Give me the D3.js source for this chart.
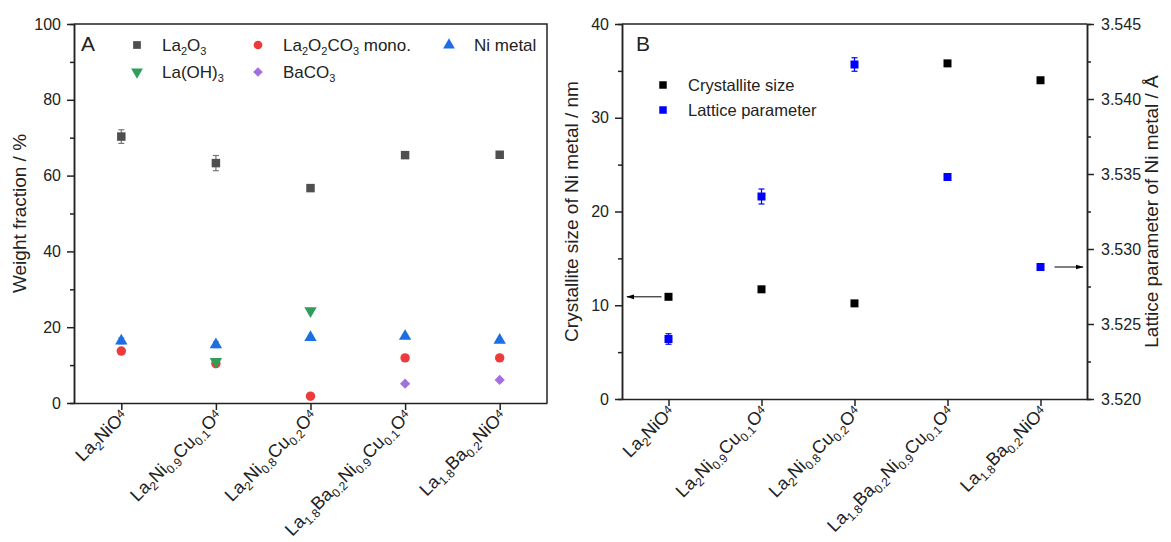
<!DOCTYPE html>
<html>
<head>
<meta charset="utf-8">
<script src="https://cdn.jsdelivr.net/npm/d3@7"></script>
<style>
  body { margin: 0; background: #fff; }
  svg { font-family: "Liberation Sans", Arial, sans-serif; }
</style>
</head>
<body>
<svg id="chart" width="1171" height="542"></svg>
<script>
// sample names (markup: _{} subscript, ^{} raised)
var samples = ["La_{2}NiO^{4}", "La_{2}Ni_{0.9}Cu_{0.1}O^{4}", "La_{2}Ni_{0.8}Cu_{0.2}O^{4}",
  "La_{1.8}Ba_{0.2}Ni_{0.9}Cu_{0.1}O^{4}", "La_{1.8}Ba_{0.2}NiO^{4}"];

// panel A - weight fraction (%), null = phase not present
var la2o3 = [70.3, 63.3, 56.7, 65.4, 65.5];
var la2o3Err = [1.8, 2.0, 0.5, 0.5, 0.5];
var la2o2co3 = [13.7, 10.4, 1.8, 11.9, 11.9];
var laoh3 = [null, 10.9, 24.3, null, null];
var baco3 = [null, null, null, 5.1, 6.1];
var niMetal = [16.4, 15.4, 17.3, 17.6, 16.6];
var niMetalErr = [0.8, 0.8, 0.3, 0.3, 0.3];

// panel B
var crystSize = [10.9, 11.7, 10.2, 35.8, 34.0];
var crystErr = [0.2, 0.2, 0.2, 0.2, 0.2];
var latticePar = [3.5240, 3.5335, 3.5423, 3.5348, 3.5288];
var latticeErr = [0.00035, 0.0005, 0.00045, 0.0002, 0.0002];

var yTicksA = [0, 20, 40, 60, 80, 100];
var yTicksB = [0, 10, 20, 30, 40];
var yTicksB2 = [3.520, 3.525, 3.530, 3.535, 3.540, 3.545];

var svg = d3.select("#chart");
var axisColor = "#222";

// write markup text into a text element as tspans
function richText(sel, str, subSize, supShift) {
  var re = /([_^])\{([^}]*)\}|([^_^]+)/g, m;
  while ((m = re.exec(str)) !== null) {
    if (m[3]) sel.append("tspan").text(m[3]);
    else if (m[1] == "_") sel.append("tspan").attr("font-size", subSize).attr("dy", subSize * 0.35)
      .attr("data-back", subSize * 0.35).text(m[2]);
    else sel.append("tspan").attr("font-size", subSize).attr("dy", -supShift)
      .attr("data-back", -supShift).text(m[2]);
  }
  // reset baseline after each shifted span
  sel.selectAll("tspan").each(function(d, i, nodes) {
    var back = this.getAttribute("data-back");
    if (back != null && nodes[i + 1]) {
      var nx = d3.select(nodes[i + 1]);
      nx.attr("dy", (+nx.attr("dy") || 0) - back);
    }
  });
}

function styleAxis(g) {
  g.selectAll(".domain").attr("stroke", axisColor).attr("stroke-width", 1.5);
  g.selectAll(".tick line").attr("stroke", axisColor).attr("stroke-width", 1.5);
  g.selectAll(".tick text").attr("fill", "#222").attr("font-size", 16).attr("font-family", "Liberation Sans, Arial, sans-serif");
}

function xLabels(g, x, baseY) {
  g.selectAll(".xl").data(samples).enter().append("text")
    .attr("class", "xl")
    .attr("transform", d => "translate(" + (x(d) + 7) + "," + (baseY + 14) + ") rotate(-45)")
    .attr("text-anchor", "end")
    .attr("font-size", 18)
    .attr("fill", "#222")
    .each(function(d) { richText(d3.select(this), d, 12, 4); });
}

function errBars(g, data, err, x, y, color, cap) {
  var pts = data.map((v, i) => ({v: v, e: err[i], s: samples[i]})).filter(d => d.v != null);
  var eb = g.append("g").attr("stroke", color).attr("stroke-width", 1.2);
  eb.selectAll(".v").data(pts).enter().append("line")
    .attr("x1", d => x(d.s)).attr("x2", d => x(d.s))
    .attr("y1", d => y(d.v - d.e)).attr("y2", d => y(d.v + d.e));
  [-1, 1].forEach(function(sg) {
    eb.selectAll(".c" + sg).data(pts).enter().append("line")
      .attr("x1", d => x(d.s) - cap).attr("x2", d => x(d.s) + cap)
      .attr("y1", d => y(d.v + sg * d.e)).attr("y2", d => y(d.v + sg * d.e));
  });
}

function markers(g, data, x, y, type, size, color, rot) {
  var sym = d3.symbol().type(type).size(size);
  g.selectAll(null).data(data.map((v, i) => ({v: v, s: samples[i]})).filter(d => d.v != null))
    .enter().append("path")
    .attr("d", sym)
    .attr("fill", color)
    .attr("transform", d => "translate(" + x(d.s) + "," + y(d.v) + ")" + (rot ? " rotate(" + rot + ")" : ""));
}

// ---------------- panel A ----------------
var A = {left: 74, right: 547, top: 24, bottom: 403};
var xA = d3.scalePoint().domain(samples).range([A.left, A.right]).padding(0.5);
var yA = d3.scaleLinear().domain([0, 100]).range([A.bottom, A.top]);

var gA = svg.append("g");
gA.append("g").attr("transform", "translate(" + A.left + ",0)")
  .call(d3.axisLeft(yA).tickValues(d3.range(10, 100, 20)).tickSize(4).tickFormat(""))
  .call(styleAxis);
gA.append("g").attr("transform", "translate(" + A.left + ",0)")
  .call(d3.axisLeft(yA).tickValues(yTicksA).tickSize(7).tickSizeOuter(0).tickPadding(6))
  .call(styleAxis);
gA.append("g").attr("transform", "translate(0," + A.bottom + ")")
  .call(d3.axisBottom(xA).tickSize(7).tickSizeOuter(0).tickFormat(""))
  .call(styleAxis);
gA.append("path").attr("fill", "none").attr("stroke", axisColor).attr("stroke-width", 1.5)
  .attr("d", "M" + A.left + "," + A.top + "H" + A.right + "V" + A.bottom);
xLabels(gA, xA, A.bottom);

gA.append("text").attr("transform", "translate(26," + ((A.top + A.bottom) / 2) + ") rotate(-90)")
  .attr("text-anchor", "middle").attr("font-size", 19).attr("fill", "#222").text("Weight fraction / %");
gA.append("text").attr("x", 81).attr("y", 51).attr("font-size", 21).attr("fill", "#222").text("A");

var cGray = "#4f4f4f", cRed = "#ec3b3b", cGreen = "#2f9e5a", cPurple = "#a46ee0", cBlue = "#1c6fe3";
errBars(gA, la2o3, la2o3Err, xA, yA, "#777", 3);
errBars(gA, niMetal, niMetalErr, xA, yA, "#6a9ff0", 3);
markers(gA, la2o3, xA, yA, d3.symbolSquare, 72, cGray);
markers(gA, la2o2co3, xA, yA, d3.symbolCircle, 70, cRed);
markers(gA, laoh3, xA, yA, d3.symbolTriangle, 66, cGreen, 180);
markers(gA, baco3, xA, yA, d3.symbolSquare, 52, cPurple, 45);
markers(gA, niMetal, xA, yA, d3.symbolTriangle, 66, cBlue);

// legend A
var legA = [
  {name: "La_{2}O_{3}", col: cGray, t: d3.symbolSquare, s: 60, r: 0, px: 137, py: 45},
  {name: "La_{2}O_{2}CO_{3} mono.", col: cRed, t: d3.symbolCircle, s: 60, r: 0, px: 258, py: 45},
  {name: "Ni metal", col: cBlue, t: d3.symbolTriangle, s: 60, r: 0, px: 449, py: 45},
  {name: "La(OH)_{3}", col: cGreen, t: d3.symbolTriangle, s: 60, r: 180, px: 137, py: 72},
  {name: "BaCO_{3}", col: cPurple, t: d3.symbolSquare, s: 46, r: 45, px: 258, py: 72}
];
var la = gA.selectAll(".leg").data(legA).enter().append("g")
  .attr("transform", d => "translate(" + d.px + "," + d.py + ")");
la.append("path").attr("d", d => d3.symbol().type(d.t).size(d.s)()).attr("fill", d => d.col)
  .attr("transform", d => "rotate(" + d.r + ")");
la.append("text").attr("x", 25).attr("y", 6).attr("font-size", 17).attr("fill", "#222")
  .each(function(d) { richText(d3.select(this), d.name, 11, 4); });

// ---------------- panel B ----------------
var B = {left: 622, right: 1087, top: 24, bottom: 399};
var xB = d3.scalePoint().domain(samples).range([B.left, B.right]).padding(0.5);
var yB = d3.scaleLinear().domain([0, 40]).range([B.bottom, B.top]);
var yB2 = d3.scaleLinear().domain([3.520, 3.545]).range([B.bottom, B.top]);

var gB = svg.append("g");
gB.append("g").attr("transform", "translate(" + B.left + ",0)")
  .call(d3.axisLeft(yB).tickValues(d3.range(5, 40, 10)).tickSize(4).tickFormat(""))
  .call(styleAxis);
gB.append("g").attr("transform", "translate(" + B.left + ",0)")
  .call(d3.axisLeft(yB).tickValues(yTicksB).tickSize(7).tickSizeOuter(0).tickPadding(6))
  .call(styleAxis);
gB.append("g").attr("transform", "translate(" + B.right + ",0)")
  .call(d3.axisRight(yB2).tickValues(d3.range(3.5225, 3.545, 0.005)).tickSize(4).tickFormat(""))
  .call(styleAxis);
gB.append("g").attr("transform", "translate(" + B.right + ",0)")
  .call(d3.axisRight(yB2).tickValues(yTicksB2).tickSize(7).tickSizeOuter(0).tickPadding(7).tickFormat(d3.format(".3f")))
  .call(styleAxis);
gB.append("g").attr("transform", "translate(0," + B.bottom + ")")
  .call(d3.axisBottom(xB).tickSize(7).tickSizeOuter(0).tickFormat(""))
  .call(styleAxis);
gB.append("line").attr("x1", B.left).attr("x2", B.right).attr("y1", B.top).attr("y2", B.top)
  .attr("stroke", axisColor).attr("stroke-width", 1.5);
xLabels(gB, xB, B.bottom);

gB.append("text").attr("transform", "translate(578," + ((B.top + B.bottom) / 2) + ") rotate(-90)")
  .attr("text-anchor", "middle").attr("font-size", 19).attr("fill", "#222").text("Crystallite size of Ni metal / nm");
gB.append("text").attr("transform", "translate(1158," + ((B.top + B.bottom) / 2) + ") rotate(-90)")
  .attr("text-anchor", "middle").attr("font-size", 19).attr("fill", "#222").text("Lattice parameter of Ni metal / Å");
gB.append("text").attr("x", 636).attr("y", 51).attr("font-size", 21).attr("fill", "#222").text("B");

errBars(gB, crystSize, crystErr, xB, yB, "#000", 3);
errBars(gB, latticePar, latticeErr, xB, yB2, "#0000ff", 3);
markers(gB, crystSize, xB, yB, d3.symbolSquare, 64, "#000");
markers(gB, latticePar, xB, yB2, d3.symbolSquare, 64, "#0000ff");

var legB = [{name: "Crystallite size", col: "#000", py: 85}, {name: "Lattice parameter", col: "#0000ff", py: 110}];
var lb = gB.selectAll(".legb").data(legB).enter().append("g")
  .attr("transform", d => "translate(663," + d.py + ")");
lb.append("path").attr("d", d3.symbol().type(d3.symbolSquare).size(56)()).attr("fill", d => d.col);
lb.append("text").attr("x", 25).attr("y", 6).attr("font-size", 16.5).attr("fill", "#222").text(d => d.name);

// arrows pointing to the axis each series belongs to
svg.append("defs").append("marker").attr("id", "ah").attr("viewBox", "0 0 10 10")
  .attr("refX", 9).attr("refY", 5).attr("markerWidth", 8).attr("markerHeight", 8).attr("orient", "auto")
  .append("path").attr("d", "M0,2L10,5L0,8z").attr("fill", "#000");
var arrows = [
  {x1: xB(samples[0]) - 7, x2: B.left + 5, y: yB(crystSize[0])},
  {x1: xB(samples[4]) + 14, x2: B.right - 4, y: yB2(latticePar[4])}
];
gB.selectAll(".arr").data(arrows).enter().append("line")
  .attr("x1", d => d.x1).attr("x2", d => d.x2).attr("y1", d => d.y).attr("y2", d => d.y)
  .attr("stroke", "#000").attr("stroke-width", 1).attr("marker-end", "url(#ah)");
</script>
</body>
</html>
